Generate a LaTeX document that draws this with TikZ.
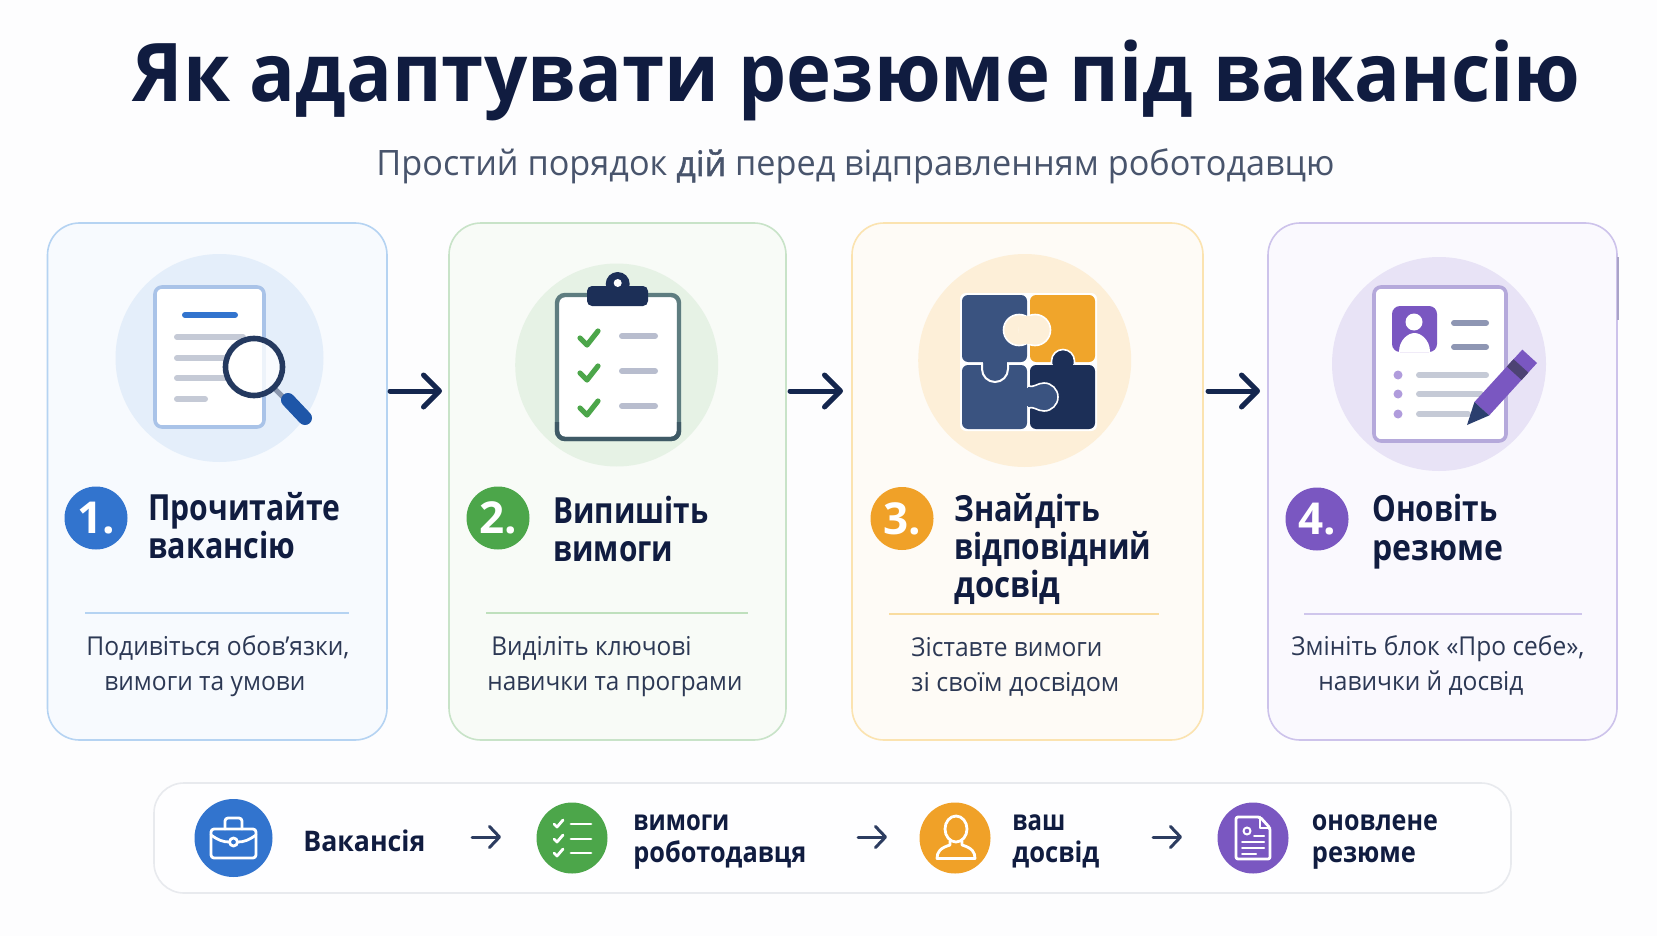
\documentclass[tikz,border=0pt]{standalone}
\usepackage{fontspec}
\usepackage{graphicx}
\setmainfont{Open Sans}
\usetikzlibrary{arrows.meta}
\definecolor{bgc}{HTML}{FDFDFE}
\definecolor{ink}{HTML}{101C40}
\definecolor{desc}{HTML}{2C3854}
\definecolor{subc}{HTML}{48546C}
\definecolor{blue}{HTML}{3274CE}
\definecolor{grn}{HTML}{4CA64A}
\definecolor{org}{HTML}{F0A128}
\definecolor{pur}{HTML}{7A57C1}
\definecolor{navy}{HTML}{14264E}
\definecolor{pnavy}{HTML}{1C2F57}
\definecolor{pblue}{HTML}{3A5380}
\definecolor{pcirc}{HTML}{FDEFD8}
\definecolor{gline}{HTML}{C5CAD6}
\newcommand\dc[1]{\definecolor{c#1}{HTML}{#1}}
\dc{B5D3F2}\dc{F7FAFE}\dc{C8E3C8}\dc{F8FBF7}\dc{FBE3B0}\dc{FEFBF6}\dc{CDC3EB}\dc{FAF9FE}\dc{A9A3C7}\dc{E4EEFA}\dc{A9C3E8}\dc{8C98AE}\dc{1E56A8}\dc{24395F}\dc{E6F2E5}\dc{5E7D80}\dc{3F5A66}\dc{B8BDCE}\dc{BFE0BD}\dc{F0A52B}\dc{F9DC9F}\dc{E8E3F6}\dc{B5A9DB}\dc{8E96B3}\dc{B09CDC}\dc{4D4373}\dc{2B3F6E}\dc{CFC6EC}\dc{E8EAEE}\dc{FEFEFF}
\tikzset{
  x=0.5pt,y=-0.5pt,
  card/.style={draw=#1,line width=0.8pt,rounded corners=16pt,inner sep=0pt,minimum height=258.5pt},
  badge/.style={circle,fill=#1,inner sep=0pt,minimum size=31.5pt,text=white,font=\fontsize{22}{22}\selectfont\bfseries},
  mini/.style={circle,fill=#1,inner sep=0pt,minimum size=35.5pt},
  bigarrow/.style={draw=navy,line width=2.5pt,line cap=round,-{Straight Barb[round,length=8pt,width=16pt]}},
  smallarrow/.style={draw=navy!90,line width=1.5pt,line cap=round,-{Straight Barb[round,length=5pt,width=10.5pt]}},
  rule/.style={draw=#1,line width=0.8pt},
  bar/.style={draw=#1,line width=3pt,line cap=round},
  whiteicon/.style={draw=white,line width=1.4pt,line cap=round,line join=round},
}
\newcommand\tline[7]{\node[anchor=base west,inner sep=0pt,text=#6] (#1) at (#2,#3) {\resizebox{\dimexpr #4pt/2\relax}{\height}{#5#7}};}
\newcommand\headf{\fontsize{18}{18}\selectfont\bfseries}
\newcommand\descf{\fontsize{13}{13}\selectfont}
\newcommand\smallf{\fontsize{14.2}{14.2}\selectfont\bfseries}
\begin{document}
\begin{tikzpicture}
\useasboundingbox (0,0) rectangle (1657,936);
\fill[bgc] (0,0) rectangle (1657,936);
% title
\tline{title}{132}{102}{1448}{\fontsize{40.5}{40.5}\selectfont\bfseries}{ink}{Як адаптувати резюме під вакансію}
\tline{subtitle}{376}{176}{958}{\fontsize{17.5}{17.5}\selectfont}{subc}{Простий порядок {\addfontfeature{FakeBold=1.5}дій} перед відправленням роботодавцю}
% cards
\node[card=cB5D3F2,fill=cF7FAFE,minimum width=169.75pt] (card1) at (217.25,481.5) {};
\node[card=cC8E3C8,fill=cF8FBF7,minimum width=168.5pt] (card2) at (617.5,481.5) {};
\node[card=cFBE3B0,fill=cFEFBF6,minimum width=175.5pt] (card3) at (1027.5,481.5) {};
\node[card=cCDC3EB,fill=cFAF9FE,minimum width=174.5pt] (card4) at (1442.5,481.5) {};
\draw[cA9A3C7,line width=1.2pt] (1617.7,257) -- (1617.7,320);
% arrows
\coordinate (a1s) at (390,391); \coordinate (a1e) at (442,391);
\coordinate (a2s) at (790,391); \coordinate (a2e) at (843,391);
\coordinate (a3s) at (1208,391); \coordinate (a3e) at (1260,391);
\draw[bigarrow] (a1s) -- (a1e);
\draw[bigarrow] (a2s) -- (a2e);
\draw[bigarrow] (a3s) -- (a3e);
% icon 1
\fill[cE4EEFA] (219.5,358) circle (104);
\draw[cA9C3E8,line width=1.8pt,fill=white,rounded corners=3.5pt] (155,287) rectangle (264,427);
\draw[bar=blue] (185,315) -- (235,315);
\draw[bar=gline] (177,337) -- (243,337);
\draw[bar=gline] (177,358) -- (225,358);
\draw[bar=gline] (177,378) -- (225,378);
\draw[bar=gline] (177,399) -- (205,399);
\draw[c8C98AE,line width=2.5pt] (275,389) -- (288,402);
\draw[c1E56A8,line width=7pt,line cap=round] (288,400) -- (305,418);
\draw[c24395F,line width=2.8pt,fill=white,fill opacity=0.8] (254,367) circle (28.5);
% badge 1 + text
\node[badge=blue] (b1) at (96,518) {1.};
\tline{h1a}{148}{520}{192}{\headf}{ink}{Прочитайте}
\tline{h1b}{148}{558}{147}{\headf}{ink}{вакансію}
\draw[rule=cB5D3F2] (85,613) -- (349,613);
\tline{d1a}{86}{655}{263}{\descf}{desc}{Подивіться обов’язки,}
\tline{d1b}{104}{690}{201}{\descf}{desc}{вимоги та умови}
% icon 2
\fill[cE6F2E5] (616.7,365) circle (101.5);
\draw[c5E7D80,line width=2.2pt,fill=white,rounded corners=4pt] (557,295) rectangle (679,439);
\draw[c3F5A66,line width=2.2pt,rounded corners=4pt] (557,422) -- (557,439) -- (679,439) -- (679,422);
\fill[pnavy] (617.7,284) circle (12);
\fill[pnavy,rounded corners=2.5pt] (587,286) rectangle (648,306);
\fill[white] (617.7,283) circle (4);
\foreach \yy in {0,35,70}{
  \draw[grn,line width=2.6pt,line cap=round,line join=round] (580,338+\yy) -- (587,345+\yy) -- (598,331+\yy);
  \draw[bar=cB8BDCE] (622,336+\yy) -- (655,336+\yy);
}
\node[badge=grn] (b2) at (498,518) {2.};
\tline{h2a}{553}{523}{155}{\headf}{ink}{Випишіть}
\tline{h2b}{553}{561}{120}{\headf}{ink}{вимоги}
\draw[rule=cBFE0BD] (486,613) -- (748,613);
\tline{d2a}{491}{655}{200}{\descf}{desc}{Виділіть ключові}
\tline{d2b}{487}{690}{255}{\descf}{desc}{навички та програми}
% icon 3
\fill[pcirc] (1024.7,360.5) circle (106.5);
\fill[white,rounded corners=3pt] (960,293) rectangle (1097,431);
\fill[pblue,rounded corners=3pt] (962,295) rectangle (1027,362);
\fill[cF0A52B,rounded corners=3pt] (1030,295) rectangle (1095,362);
\fill[pblue,rounded corners=3pt] (962,365) rectangle (1027,429);
\fill[pnavy,rounded corners=3pt] (1030,365) rectangle (1095,429);
% centre blob
\draw[white,line width=0.8pt,fill=pcirc] (1019,330) circle (15.5);
\draw[white,line width=0.8pt,fill=pcirc] (1035,330) circle (15.5);
\fill[pcirc] (1019,316) rectangle (1035,344);
% TL tab into BL
\fill[pblue] (983,361) rectangle (1007,368);
\draw[white,line width=1pt] (982,363) -- (982,369) arc[start angle=180,end angle=0,radius=13] -- (1008,363);
% BR tab into TR
\draw[white,line width=0.8pt,fill=pnavy] (1051.5,364) -- (1051.5,361) arc[start angle=180,end angle=360,radius=11.5] -- (1074.5,364);
\fill[pnavy] (1053,360) rectangle (1073,367);
% BL tab into BR
\draw[white,line width=0.8pt,fill=pblue] (1028,386) .. controls (1034,388) and (1037,383) .. (1044,383) arc[start angle=-90,end angle=90,radius=14] .. controls (1037,411) and (1034,406) .. (1028,408);
\fill[pblue] (1025,388) rectangle (1032,406);
\node[badge=org] (b3) at (902,518.5) {3.};
\tline{h3a}{954}{521}{146}{\headf}{ink}{Знайдіть}
\tline{h3b}{954}{559}{197}{\headf}{ink}{відповідний}
\tline{h3c}{954}{597}{106}{\headf}{ink}{досвід}
\draw[rule=cF9DC9F] (889,614) -- (1159,614);
\tline{d3a}{911}{656}{191}{\descf}{desc}{Зіставте вимоги}
\tline{d3b}{911}{691}{208}{\descf}{desc}{зі своїм досвідом}
% icon 4
\fill[cE8E3F6] (1439,364) circle (107);
\draw[cB5A9DB,line width=1.8pt,fill=white,rounded corners=3.5pt] (1374,287) rectangle (1506,441);
\fill[pur,rounded corners=4pt] (1392,306) rectangle (1437,352);
\fill[white] (1414,322) circle (8.5);
\fill[white] (1399,352) .. controls (1399,340) and (1408,333) .. (1414.5,333) .. controls (1421,333) and (1430,340) .. (1430,352) -- cycle;
\draw[bar=c8E96B3] (1454,323) -- (1486,323);
\draw[bar=c8E96B3] (1454,347) -- (1486,347);
\foreach \yy/\xe in {375/1486,394/1481,414/1468}{
  \fill[cB09CDC] (1398,\yy) circle (4.5);
  \draw[bar=gline] (1419,\yy) -- (\xe,\yy);
}
% pencil
\fill[pur] (1489.2,415.4) -- (1474.4,402) -- (1522.3,349.6) -- (1537,363) -- cycle;
\fill[c4D4373] (1521.6,380) -- (1506.8,366.6) -- (1513.5,359.2) -- (1528.3,372.6) -- cycle;
\fill[c2B3F6E] (1467,425) -- (1474.4,402) -- (1489.2,415.4) -- cycle;
\node[badge=pur] (b4) at (1317,519) {4.};
\tline{h4a}{1372}{521}{125}{\headf}{ink}{Оновіть}
\tline{h4b}{1372}{560}{131}{\headf}{ink}{резюме}
\draw[rule=cCFC6EC] (1304,614) -- (1582,614);
\tline{d4a}{1291}{655}{293}{\descf}{desc}{Змініть блок «Про себе»,}
\tline{d4b}{1318}{690}{205}{\descf}{desc}{навички й досвід}
% bottom bar
\node[draw=cE8EAEE,line width=0.8pt,fill=cFEFEFF,rounded corners=15pt,minimum width=678.5pt,minimum height=55pt,inner sep=0pt] (strip) at (832.5,838) {};
\node[circle,fill=blue,inner sep=0pt,minimum size=39pt] (m1) at (233.5,838) {};
\node[mini=grn] (m2) at (572,838) {};
\node[mini=org] (m3) at (955,838) {};
\node[mini=pur] (m4) at (1253,838) {};
% briefcase
\draw[whiteicon,rounded corners=1.5pt] (211,829) rectangle (256,858);
\draw[whiteicon,rounded corners=1.5pt] (225,829) -- (225,818) -- (242,818) -- (242,829);
\draw[whiteicon] (211,835) .. controls (218,840) and (223,842) .. (229,842);
\draw[whiteicon] (256,835) .. controls (249,840) and (244,842) .. (238,842);
\draw[whiteicon] (233.5,842) circle (4);
% checklist
\foreach \yy in {824,839,853}{
  \draw[whiteicon] (554,\yy) -- (557,\yy+3) -- (563,\yy-4);
  \draw[whiteicon] (571,\yy) -- (591,\yy);
}
% person
\draw[whiteicon] (956,829) ellipse (11 and 13);
\draw[whiteicon] (950,841) -- (950,845) .. controls (940,848) and (937,852) .. (937,858.5) -- (975,858.5) .. controls (975,852) and (972,848) .. (962,845) -- (962,841);
% doc
\draw[whiteicon,rounded corners=1pt] (1236,817) -- (1260,817) -- (1270,828) -- (1270,859) -- (1236,859) -- cycle;
\draw[whiteicon] (1260,817) -- (1260,828) -- (1270,828);
\draw[whiteicon,line width=1pt] (1247,831) circle (3.5);
\draw[whiteicon,line width=1pt] (1254,836) -- (1264,836);
\draw[whiteicon,line width=1pt] (1242,842) -- (1264,842);
\draw[whiteicon,line width=1pt] (1242,848) -- (1264,848);
\draw[whiteicon,line width=1pt] (1242,854) -- (1256,854);
\coordinate (s1s) at (472,837); \coordinate (s1e) at (501,837);
\coordinate (s2s) at (858,837); \coordinate (s2e) at (887,837);
\coordinate (s3s) at (1153,837); \coordinate (s3e) at (1182,837);
\draw[smallarrow] (s1s) -- (s1e);
\draw[smallarrow] (s2s) -- (s2e);
\draw[smallarrow] (s3s) -- (s3e);
\tline{t1}{303}{851}{122}{\smallf}{ink}{Вакансія}
\tline{t2a}{633}{830}{96}{\smallf}{ink}{вимоги}
\tline{t2b}{633}{862}{173}{\smallf}{ink}{роботодавця}
\tline{t3a}{1012}{830}{53}{\smallf}{ink}{ваш}
\tline{t3b}{1012}{862}{87}{\smallf}{ink}{досвід}
\tline{t4a}{1311.5}{830}{126}{\smallf}{ink}{оновлене}
\tline{t4b}{1311.5}{862}{104}{\smallf}{ink}{резюме}
\end{tikzpicture}
\end{document}
